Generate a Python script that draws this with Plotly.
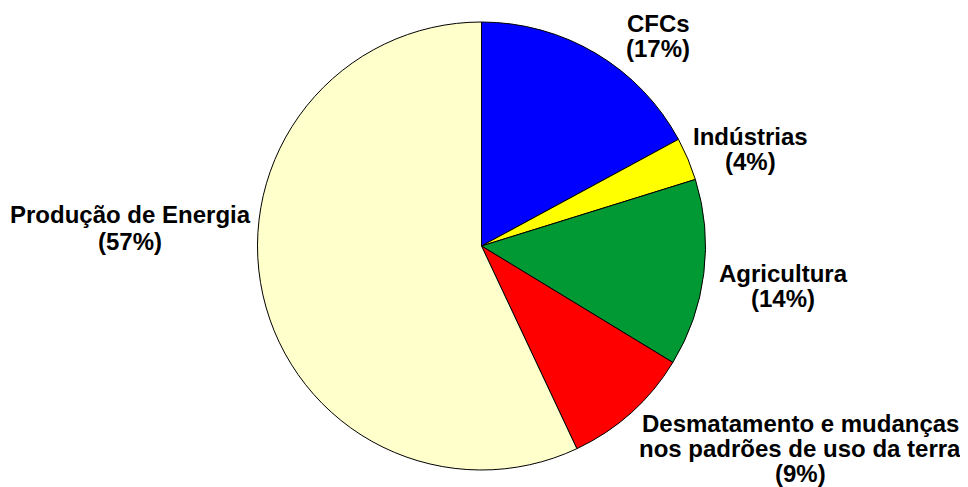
import plotly.graph_objects as go

# Data
categories = ["CFCs", "Indústrias", "Agricultura",
              "Desmatamento e mudanças|nos padrões de uso da terra",
              "Produção de Energia"]
values = [17.1, 3.1, 13.5, 9.3, 57.0]
pct_labels = ["17%", "4%", "14%", "9%", "57%"]
colors = ["#0000FF", "#FFFF00", "#009933", "#FF0000", "#FFFFCC"]

# Layout helpers (reference-canvas pixels; page has an 8px body margin)
OFF = 8
W, H = 968 - OFF, 487 - OFF
# (x centre, first-line baseline, line spacing) for each label, in page pixels
label_pos = [(658, 31.5, 25), (750, 144.5, 25.5), (783, 282, 25),
             (800, 431.5, 25), (130, 223, 27)]
FONT = dict(family="Arial, Liberation Sans, sans-serif", size=24,
            color="black", weight="bold")

def px_to_paper(px, py):
    return (px - OFF) / W, 1 - (py - OFF) / H

x0, y0 = px_to_paper(257.5, 470)
x1, y1 = px_to_paper(705.5, 22)

fig = go.Figure(go.Pie(
    labels=[c.replace("|", " ") for c in categories],
    values=values,
    sort=False,
    direction="clockwise",
    rotation=0,
    marker=dict(colors=colors, line=dict(color="black", width=1)),
    textinfo="none",
    showlegend=False,
    domain=dict(x=[x0, x1], y=[y0, y1]),
))

for cat, pct, (cx, base, sp) in zip(categories, pct_labels, label_pos):
    lines = cat.split("|") + [f"({pct})"]
    for i, line in enumerate(lines):
        ax, ay = px_to_paper(cx, base + i * sp - 8.3)
        fig.add_annotation(
            x=ax, y=ay, xref="paper", yref="paper",
            text=line, showarrow=False,
            xanchor="center", yanchor="middle", align="center",
            font=FONT,
        )

fig.update_layout(
    width=W, height=H,
    margin=dict(l=0, r=0, t=0, b=0),
    paper_bgcolor="white", plot_bgcolor="white",
)

fig.write_html("out.html")
